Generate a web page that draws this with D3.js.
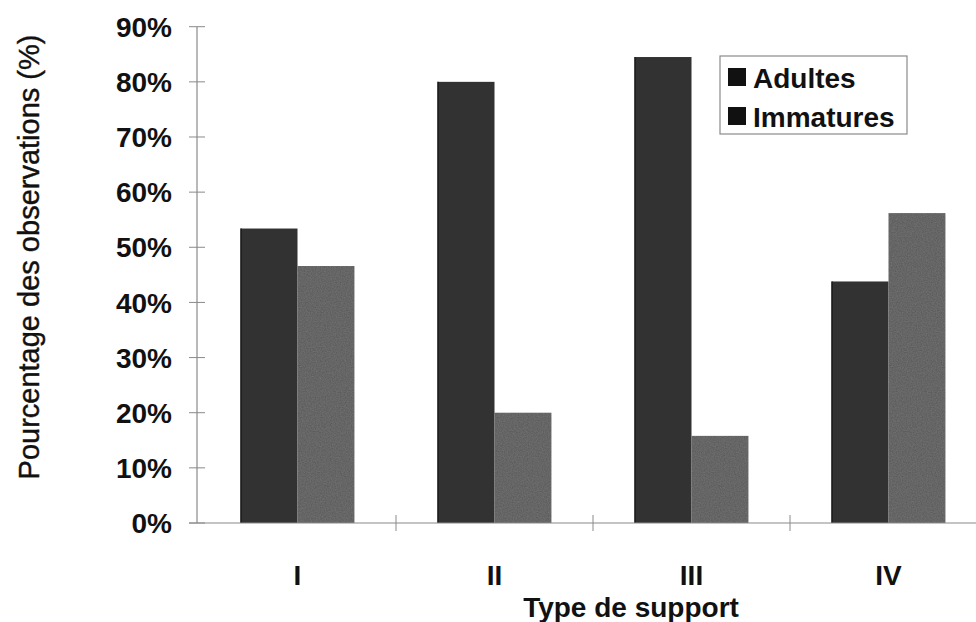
<!DOCTYPE html>
<html>
<head>
<meta charset="utf-8">
<script src="https://cdn.jsdelivr.net/npm/d3@7"></script>
<style>
  html, body { margin: 0; padding: 0; background: #fff; }
  svg { display: block; font-family: Arial, "Liberation Sans", sans-serif; }
</style>
</head>
<body>
<svg id="chart" width="976" height="622"></svg>
<script>
// Type de support (catégories de l'axe X)
const categories = ["I", "II", "III", "IV"];
// Séries
const seriesNames = ["Adultes", "Immatures"];
const adultes = [53.4, 80.0, 84.5, 43.8];
const immatures = [46.6, 20.0, 15.8, 56.2];
// Graduations de l'axe Y (en %)
const yTicks = [0, 10, 20, 30, 40, 50, 60, 70, 80, 90];

const seriesValues = [adultes, immatures];
const colors = ["#323232", "#555555"];
const legendColors = ["#111111", "#111111"];

const svg = d3.select("#chart");

// Zone de tracé
const plot = { left: 197, right: 987, top: 26.7, bottom: 523 };

const y = d3.scaleLinear().domain([0, 90]).range([plot.bottom, plot.top]);
const x0 = d3.scaleBand().domain(categories).range([plot.left + 2, plot.right]).padding(0);
const x1 = d3.scaleBand().domain(seriesNames).range([0, x0.bandwidth()])
  .paddingInner(0).paddingOuter(0.73);

// Grain léger sur les barres Immatures
const defs = svg.append("defs");
const grain = defs.append("filter").attr("id", "grain")
  .attr("x", 0).attr("y", 0).attr("width", 1).attr("height", 1);
grain.append("feTurbulence").attr("type", "fractalNoise")
  .attr("baseFrequency", 0.8).attr("numOctaves", 2).attr("seed", 3).attr("result", "noise");
grain.append("feColorMatrix").attr("in", "noise").attr("type", "matrix")
  .attr("values", "0 0 0 0 1  0 0 0 0 1  0 0 0 0 1  0 0 0 0.09 0").attr("result", "speck");
grain.append("feComposite").attr("in", "speck").attr("in2", "SourceGraphic").attr("operator", "atop");

// Barres
const groups = svg.append("g").selectAll("g")
  .data(categories)
  .join("g")
  .attr("transform", d => `translate(${x0(d)},0)`);

groups.selectAll("rect")
  .data((c, i) => seriesNames.map((s, k) => ({ s, k, v: seriesValues[k][i] })))
  .join("rect")
  .attr("x", d => x1(d.s))
  .attr("y", d => y(d.v))
  .attr("width", x1.bandwidth())
  .attr("height", d => y(0) - y(d.v))
  .attr("fill", d => colors[d.k])
  .attr("filter", d => d.k === 1 ? "url(#grain)" : null);

// Liseré sombre à gauche des barres Adultes
groups.append("line")
  .attr("x1", x1("Adultes") + 0.5).attr("x2", x1("Adultes") + 0.5)
  .attr("y1", (c, i) => y(adultes[i])).attr("y2", y(0))
  .attr("stroke", "#1c1c1c").attr("stroke-width", 1.5);

// Axe Y
const yAxis = svg.append("g");
yAxis.append("line")
  .attr("x1", plot.left).attr("x2", plot.left)
  .attr("y1", y(90)).attr("y2", y(0))
  .attr("stroke", "#8a8a8a").attr("stroke-width", 1.2);
yAxis.selectAll("line.tick")
  .data(yTicks)
  .join("line")
  .attr("class", "tick")
  .attr("x1", plot.left - 8).attr("x2", plot.left + 8)
  .attr("y1", d => y(d)).attr("y2", d => y(d))
  .attr("stroke", "#8a8a8a").attr("stroke-width", 1);
yAxis.selectAll("text")
  .data(yTicks)
  .join("text")
  .attr("x", 172)
  .attr("y", d => y(d))
  .attr("dy", "0.36em")
  .attr("text-anchor", "end")
  .attr("font-size", 28)
  .attr("font-weight", "bold")
  .attr("fill", "#111")
  .text(d => d + "%");

// Axe X
const xAxis = svg.append("g");
xAxis.append("line")
  .attr("x1", plot.left - 8).attr("x2", 976)
  .attr("y1", y(0)).attr("y2", y(0))
  .attr("stroke", "#8a8a8a").attr("stroke-width", 1.2);
xAxis.selectAll("line.tick")
  .data(categories.slice(1))
  .join("line")
  .attr("class", "tick")
  .attr("x1", d => x0(d)).attr("x2", d => x0(d))
  .attr("y1", y(0) - 8).attr("y2", y(0) + 8)
  .attr("stroke", "#8a8a8a").attr("stroke-width", 1);
xAxis.selectAll("text")
  .data(categories)
  .join("text")
  .attr("x", d => x0(d) + x0.bandwidth() / 2)
  .attr("y", 585)
  .attr("text-anchor", "middle")
  .attr("font-size", 28)
  .attr("font-weight", "bold")
  .attr("fill", "#111")
  .text(d => d);

// Titres des axes
svg.append("text")
  .attr("x", 631).attr("y", 617)
  .attr("text-anchor", "middle")
  .attr("font-size", 28)
  .attr("font-weight", "bold")
  .attr("fill", "#111")
  .text("Type de support");

svg.append("text")
  .attr("transform", "translate(39,257) rotate(-90)")
  .attr("text-anchor", "middle")
  .attr("font-size", 29)
  .attr("fill", "#111")
  .attr("stroke", "#111")
  .attr("stroke-width", 0.4)
  .text("Pourcentage des observations (%)");

// Légende
const legend = svg.append("g").attr("transform", "translate(720,56)");
legend.append("rect")
  .attr("x", 0).attr("y", 0).attr("width", 187).attr("height", 78)
  .attr("fill", "#fff").attr("stroke", "#8a8a8a").attr("stroke-width", 1.2);
const items = legend.selectAll("g.item")
  .data(seriesNames)
  .join("g")
  .attr("class", "item")
  .attr("transform", (d, i) => `translate(8,${12 + i * 39})`);
items.append("rect")
  .attr("width", 18).attr("height", 18)
  .attr("fill", (d, i) => legendColors[i]);
items.append("text")
  .attr("x", 25).attr("y", 20)
  .attr("font-size", 28)
  .attr("font-weight", "bold")
  .attr("fill", "#111")
  .text(d => d);
</script>
</body>
</html>
